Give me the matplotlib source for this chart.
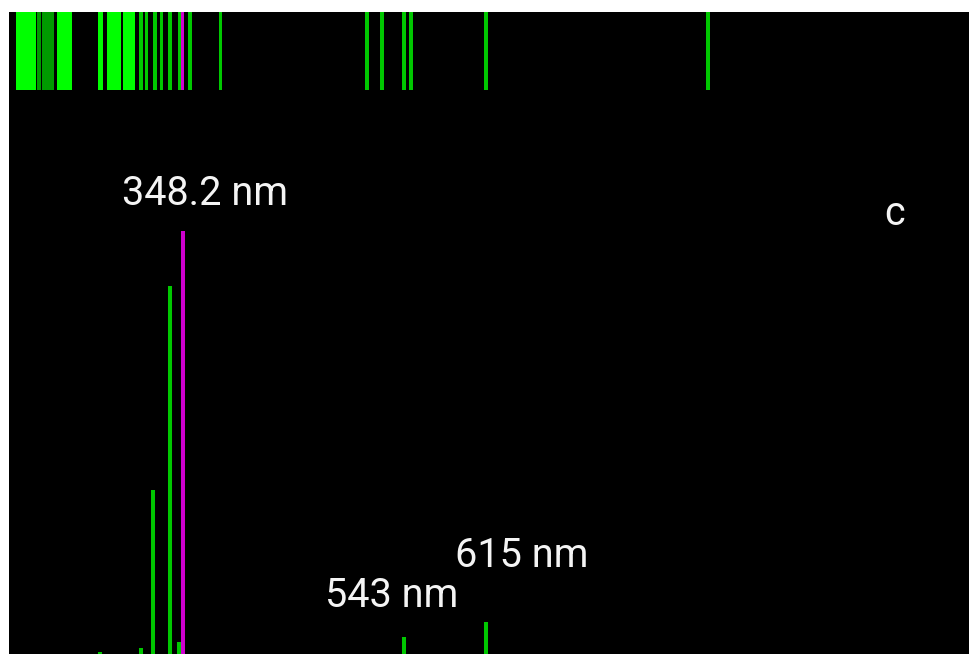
import matplotlib.pyplot as plt

# emission lines (nm) and relative intensities, strongest line = 100
line_nm = [275.6, 311.7, 321.8, 337.2, 345.1, 348.2, 543.0, 615.0]
line_int = [0.4, 1.4, 38.8, 87.0, 2.8, 100.0, 4.0, 7.6]
main_line = 348.2

# barcode strip: line centres and widths (nm)
strip_nm = [210.5, 221.9, 226.3, 229.8, 233.4, 244.4, 276.0, 287.9, 301.1,
            311.7, 316.5, 323.6, 329.7, 337.2, 346.0, 348.2, 354.8, 381.6,
            510.6, 523.8, 543.0, 549.3, 615.0, 810.6]
strip_w = [17.6, 3.4, 3.4, 3.4, 3.4, 13.2, 4.4, 12.3, 10.6,
           3.0, 3.0, 3.4, 3.0, 3.4, 3.0, 3.4, 3.4, 3.4,
           3.4, 3.4, 3.4, 3.4, 3.4, 3.0]

labels_nm = [348.2, 615.0, 543.0]
label_text = ["348.2 nm", "615 nm", "543 nm"]

GREEN = "#00ff00"
DIM_GREEN = "#00c800"
DARK_GREEN = "#009a00"
MAGENTA = "#d000d0"
XLIM = (195.5, 1040.3)

fig = plt.figure(figsize=(9.69, 6.54), dpi=100, facecolor="white")
W, H = 969, 654

def px_rect(x0, y0, x1, y1):
    return [x0 / W, 1 - y1 / H, (x1 - x0) / W, (y1 - y0) / H]

ax = fig.add_axes(px_rect(9, 12, 969, 654))
ax.set_facecolor("black")
ax.set_xlim(*XLIM)
ax.set_ylim(0, 151.8)
for nm, val in zip(line_nm, line_int):
    col = MAGENTA if nm == main_line else DIM_GREEN
    ax.vlines(nm, 0, val, colors=col, linewidth=2.9, zorder=3 if nm == main_line else 2)
ax.set_xticks([])
ax.set_yticks([])
for s in ax.spines.values():
    s.set_visible(False)

# label placement (x in nm, baseline height)
label_pos = {348.2: (368.0, 106.1), 615.0: (647.0, 20.6), 543.0: (532.5, 11.1)}
font = dict(family=["Roboto", "DejaVu Sans"], size=28.5, color="#f4f4f4")
for nm, txt in zip(labels_nm, label_text):
    x, y = label_pos[nm]
    ax.text(x, y, txt, ha="center", va="baseline", **font)
ax.text(975.2, 101.4, "c", ha="center", va="baseline", **font)

strip = fig.add_axes(px_rect(9, 12, 969, 90))
strip.set_facecolor("black")
strip.set_xlim(*XLIM)
strip.set_ylim(0, 1)
for nm, w in zip(strip_nm, strip_w):
    if nm == main_line:
        col = MAGENTA
    elif w > 4:
        col = GREEN
    elif nm < 240:
        col = DARK_GREEN
    else:
        col = DIM_GREEN
    strip.bar(nm, 1, width=w, bottom=0, color=col, linewidth=0, align="center")
strip.set_xticks([])
strip.set_yticks([])
for s in strip.spines.values():
    s.set_visible(False)

fig.savefig("out.png", dpi=100, facecolor="white")
